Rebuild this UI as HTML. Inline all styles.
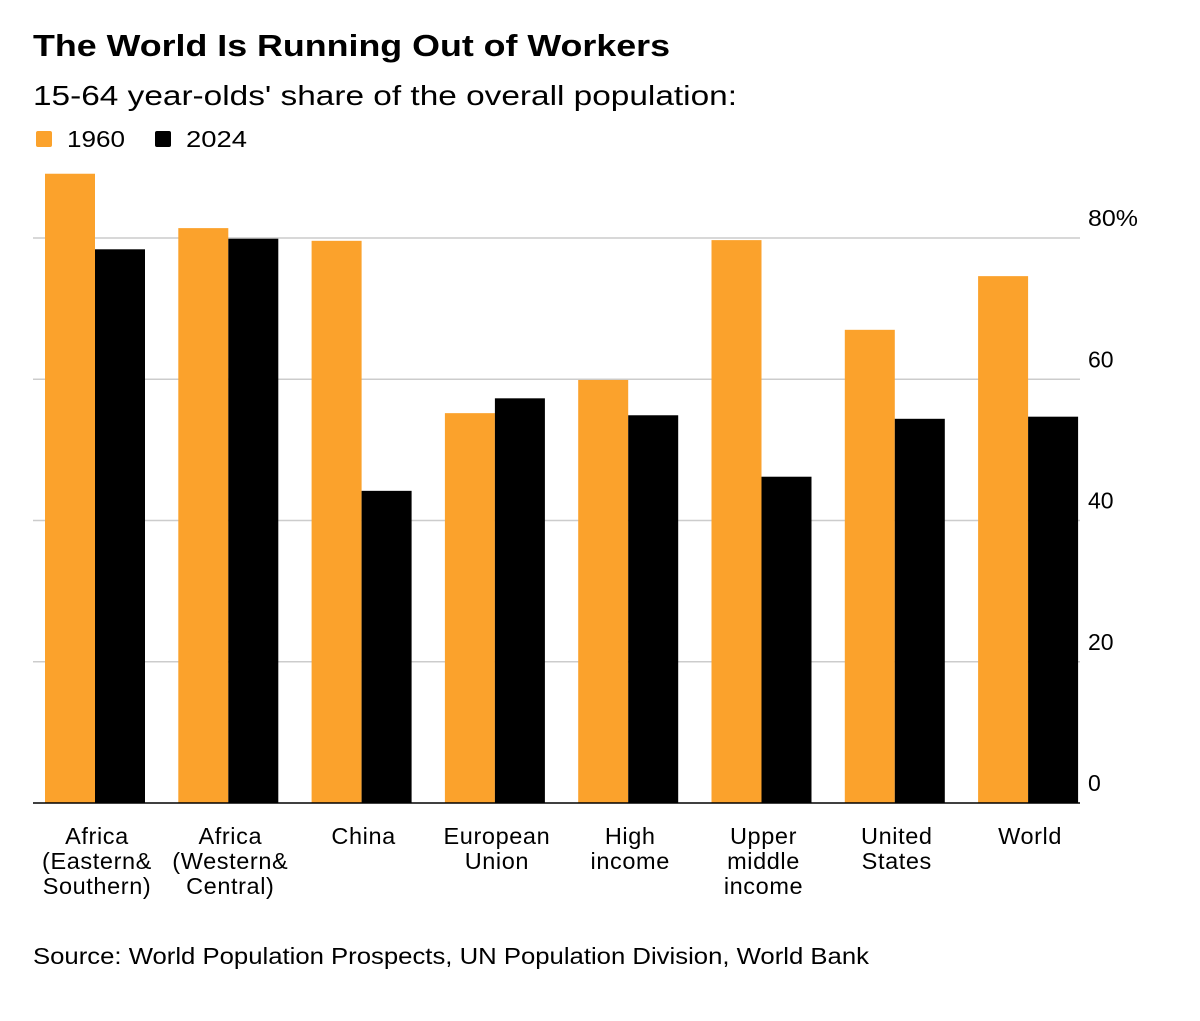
<!DOCTYPE html>
<html><head><meta charset="utf-8"><style>
body{margin:0;background:#fff;width:1200px;height:1016px;overflow:hidden;font-family:"Liberation Sans",Arial,sans-serif;}
</style></head><body>
<svg width="1200" height="1016" xmlns="http://www.w3.org/2000/svg" font-family="Liberation Sans, Arial, sans-serif">
<text x="33" y="56" font-size="31" font-weight="bold" fill="#000" textLength="637" lengthAdjust="spacingAndGlyphs">The World Is Running Out of Workers</text>
<text x="33" y="105" font-size="28" fill="#000" textLength="704" lengthAdjust="spacingAndGlyphs">15-64 year-olds' share of the overall population:</text>
<g>
<rect x="36" y="131" width="16" height="16" rx="2" fill="#fba22c"/>
<text x="67" y="147" font-size="23" textLength="58" lengthAdjust="spacingAndGlyphs">1960</text>
<rect x="155" y="131" width="16" height="16" rx="2" fill="#000"/>
<text x="186" y="147" font-size="23" textLength="61" lengthAdjust="spacingAndGlyphs">2024</text>
</g>
<g id="grid"></g><g id="bars"></g><g id="xl"></g>
<text x="33" y="964" font-size="23" fill="#000" textLength="836" lengthAdjust="spacingAndGlyphs">Source: World Population Prospects, UN Population Division, World Bank</text>
</svg>
<script>
const categories=[["Africa","(Eastern&","Southern)"],["Africa","(Western&","Central)"],["China"],["European","Union"],["High","income"],["Upper","middle","income"],["United","States"],["World"]];
const values1960=[89.1,81.4,79.6,55.2,59.9,79.7,67.0,74.6];
const values2024=[78.4,79.9,44.2,57.3,54.9,46.2,54.4,54.7];
const tickValues=[0,20,40,60,80];
const tickLabels=["0","20","40","60","80%"];
const NS="http://www.w3.org/2000/svg";
const y0=803,pxPer=7.0625;
const y=v=>y0-v*pxPer;
const groupX=i=>95+i*133.3;
const bw=50;
function mk(t,a,p){const e=document.createElementNS(NS,t);for(const k in a)e.setAttribute(k,a[k]);p.appendChild(e);return e;}
const g=document.getElementById('grid');
tickValues.forEach((v,i)=>{
 if(v>0){const l=mk('line',{x1:33,x2:1080,y1:y(v),y2:y(v),stroke:'#ccc','stroke-width':1.5},g);
 
 }
 const t=mk('text',{x:1088,y:y(v)-12,'font-size':23,fill:'#000'},g);
 if(v===80){t.setAttribute('textLength',50);t.setAttribute('lengthAdjust','spacingAndGlyphs');}
 t.textContent=tickLabels[i];
 
 
});
const b=document.getElementById('bars');
categories.forEach((c,i)=>{
 const cx=groupX(i);
 const r1=mk('rect',{x:cx-bw,y:y(values1960[i]),width:bw,height:values1960[i]*pxPer,fill:'#fba22c'},b);
 
 
 const r2=mk('rect',{x:cx,y:y(values2024[i]),width:bw,height:values2024[i]*pxPer,fill:'#000'},b);
 
 
 const xl=document.getElementById('xl');
 const t=mk('text',{x:cx+2,'text-anchor':'middle','font-size':23.5,fill:'#000','letter-spacing':'0.6'},xl);
 
 
 c.forEach((s,j)=>{const ts=mk('tspan',{x:cx+2,y:844+j*25},t);ts.textContent=s;});
});
const base=mk('line',{x1:33,x2:1080,y1:y0,y2:y0,stroke:'#000','stroke-width':1.5},b);


</script>
</body></html>
